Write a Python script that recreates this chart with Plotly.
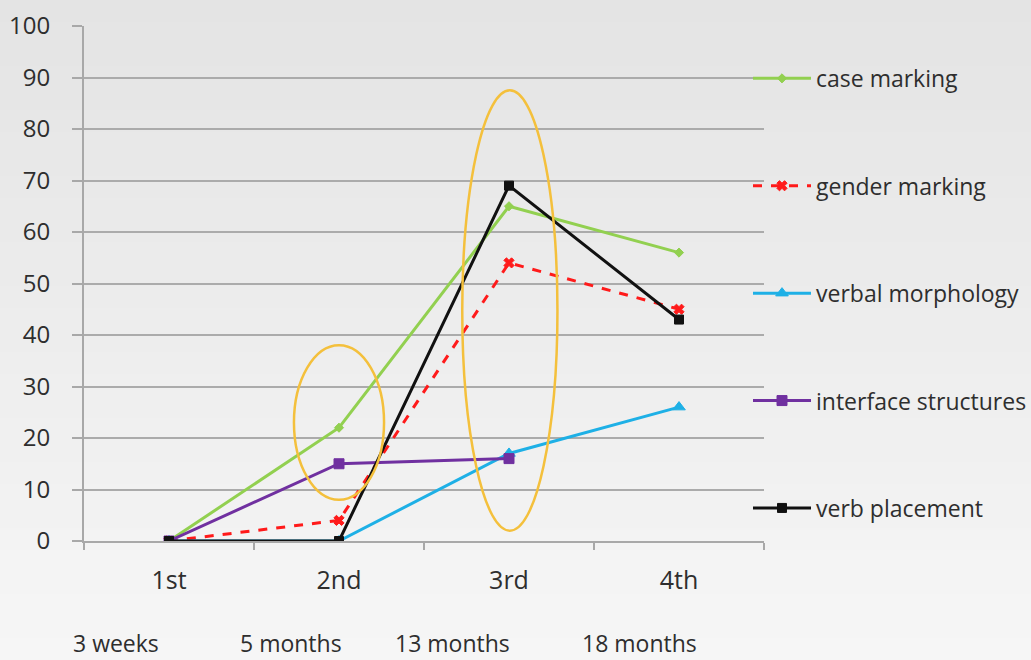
import plotly.graph_objects as go

# Test rounds and the time elapsed at each
rounds = ["1st", "2nd", "3rd", "4th"]
elapsed = ["3 weeks", "5 months", "13 months", "18 months"]

# Accuracy scores (%) per structure
case_marking = [0, 22, 65, 56]
gender_marking = [0, 4, 54, 45]
verbal_morphology = [0, 0, 17, 26]
interface_structures = [0, 15, 16, None]
verb_placement = [0, 0, 69, 43]

y_ticks = list(range(0, 101, 10))

series = [
    ("case marking", case_marking, "#92D050", "solid", "diamond", 7),
    ("gender marking", gender_marking, "#FF1A1A", "dash", "x", 9),
    ("verbal morphology", verbal_morphology, "#1EB0E6", "solid", "triangle-up", 11),
    ("interface structures", interface_structures, "#7030A0", "solid", "square", 10),
    ("verb placement", verb_placement, "#111111", "solid", "square", 9),
]

W, H = 1031, 660
L, R, T, B = 84, 267, 26, 119
PW, PH = W - L - R, H - T - B
FONT = "Open Sans"
TEXT = "#2e2e2e"

fig = go.Figure()
for i, (name, vals, color, dash, symbol, size) in enumerate(series):
    fig.add_trace(go.Scatter(
        x=rounds, y=vals, name=name, mode="lines+markers",
        legendgroup=f"g{i}",
        line=dict(color=color, width=3, dash=dash),
        marker=dict(symbol=symbol, size=size, color=color,
                    line=dict(color=color, width=1)),
        connectgaps=False,
    ))

# Soft vertical gradient behind the whole chart (darker at the top)
n_bands = 30
top_rgb, bot_rgb = (228, 228, 228), (246, 246, 246)
band = (H / n_bands) / PH
for k in range(n_bands):
    f = k / (n_bands - 1)
    c = tuple(round(a + (b - a) * f) for a, b in zip(top_rgb, bot_rgb))
    y_hi = (H - B) / PH - k * band
    if k == 0:
        y_hi += 0.01
    y_lo = y_hi - band - 0.003
    fig.add_shape(type="rect", xref="paper", yref="paper",
                  x0=-L / PW - 0.01, x1=(W - L) / PW + 0.01, y0=y_lo, y1=y_hi,
                  fillcolor="rgb(%d,%d,%d)" % c, line=dict(width=0),
                  layer="below")

# Highlight ellipses around the 2nd and 3rd rounds
ellipse_style = dict(color="#F4C03C", width=2.5)
fig.add_shape(type="circle", xref="x", yref="y",
              x0=0.735, x1=1.265, y0=8, y1=38, line=ellipse_style)
fig.add_shape(type="circle", xref="x", yref="y",
              x0=1.725, x1=2.285, y0=2, y1=87.5, line=ellipse_style)

# Elapsed time labels under the round labels
for label, xpx in zip(elapsed, [116, 291, 452, 639]):
    fig.add_annotation(text=label, x=(xpx - L) / PW, y=(H - B - 643) / PH,
                       xref="paper", yref="paper", xanchor="center",
                       yanchor="middle", showarrow=False,
                       font=dict(size=23, color=TEXT, family=FONT))

fig.update_layout(
    width=W, height=H,
    margin=dict(l=L, r=R, t=T, b=B, autoexpand=False),
    paper_bgcolor="#e4e4e4",
    plot_bgcolor="rgba(0,0,0,0)",
    font=dict(family=FONT, color=TEXT),
    showlegend=True,
    legend=dict(
        x=(748 - L) / PW, y=0.940, xanchor="left", yanchor="top",
        bgcolor="rgba(0,0,0,0)", tracegroupgap=74.5,
        font=dict(size=23, color=TEXT, family=FONT),
        itemwidth=58,
    ),
)
fig.update_xaxes(
    type="category", range=[-0.5, 3.5], automargin=False,
    tickson="boundaries", ticks="outside", ticklen=7,
    tickcolor="#a8a8a8", tickwidth=2,
    showline=True, linecolor="#a8a8a8", linewidth=2,
    showgrid=False, zeroline=False,
    tickfont=dict(size=25, color=TEXT),
    ticklabelstandoff=16,
)
fig.update_yaxes(
    range=[0, 100], tickvals=y_ticks, automargin=False,
    ticks="outside", ticklen=10, tickcolor="#a8a8a8", tickwidth=2,
    showline=True, linecolor="#a8a8a8", linewidth=2,
    showgrid=True, gridcolor="#ababab", gridwidth=2,
    zeroline=False,
    tickfont=dict(size=24, color=TEXT),
    ticklabelstandoff=17,
)

fig.write_html("out.html")
